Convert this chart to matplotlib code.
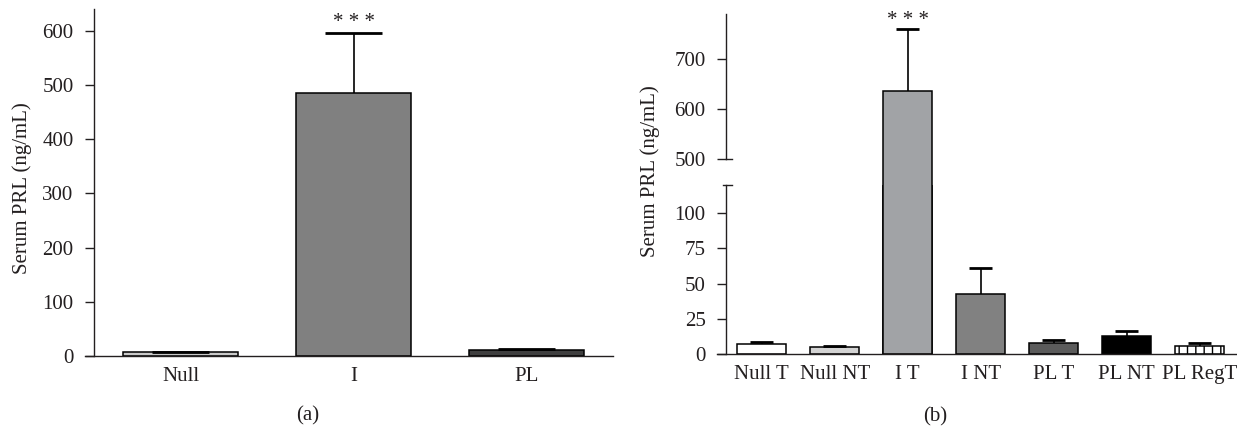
import numpy as np
import matplotlib.pyplot as plt
from matplotlib.transforms import Bbox, blended_transform_factory

plt.rcParams['font.family'] = ['Liberation Serif', 'DejaVu Serif']
plt.rcParams['font.size'] = 15
plt.rcParams['hatch.linewidth'] = 1.0
plt.rcParams['text.color'] = '#231f20'
plt.rcParams['xtick.color'] = '#231f20'
plt.rcParams['ytick.color'] = '#231f20'

# panel (a)
groups_a = ['Null', 'I', 'PL']
means_a = [7, 485, 10.5]
sem_a = [1.3, 110, 1.8]
colors_a = ['#c9c9c9', '#808080', '#3f3f3f']
stars_a = ['', '* * *', '']

# panel (b)
groups_b = ['Null T', 'Null NT', 'I T', 'I NT', 'PL T', 'PL NT', 'PL RegT']
means_b = [7.5, 4.9, 636, 42.6, 8.0, 12.7, 6.1]
sem_b = [1.2, 1.2, 123, 18.5, 2.1, 4.0, 2.1]
colors_b = ['white', '#d3d3d3', '#a1a3a6', '#818181', '#5b5b5b', 'black', 'white']
hatch_b = [None, None, None, None, None, None, '||']
stars_b = ['', '', '* * *', '', '', '', '']

EDGE = 'black'


def style_axis(ax, spine_x):
    for side in ('top', 'right'):
        ax.spines[side].set_visible(False)
    ax.spines['left'].set_position(('data', spine_x))
    for side in ('left', 'bottom'):
        ax.spines[side].set_linewidth(1.0)
        ax.spines[side].set_color('#231f20')
    ax.tick_params(axis='y', direction='out', length=6.7, width=1.0, pad=8)
    ax.tick_params(axis='x', length=0, pad=8)


def add_errors(ax, x, means, errs, cap_half):
    tops = np.add(means, errs)
    ax.vlines(x, means, tops, color='black', linewidth=1.2, zorder=3)
    ax.hlines(tops, x - cap_half, x + cap_half, color='black', linewidth=2.0, zorder=3)
    return tops


def add_stars(ax, x, tops, stars, offset):
    for xi, t, s in zip(x, tops, stars):
        if s:
            ax.annotate(s, (xi, t), xytext=(0, offset), textcoords='offset points',
                        ha='center', va='bottom', fontsize=15, annotation_clip=False)


fig = plt.figure(figsize=(12.37, 4.28), dpi=100)

# ---- (a)
ax_a = fig.add_axes([0.0687, 0.1682, 0.4266, 0.8107])
xa = np.arange(len(groups_a))
ax_a.bar(xa, means_a, width=0.664, color=colors_a, edgecolor=EDGE, linewidth=1.1, zorder=2)
tops_a = add_errors(ax_a, xa, means_a, sem_a, 0.165)
add_stars(ax_a, xa, tops_a, stars_a, 1)
ax_a.set_xlim(-0.552, 2.497)
ax_a.set_ylim(0, 640)
ax_a.set_yticks(np.arange(0, 601, 100))
ax_a.set_xticks(xa, groups_a)
style_axis(ax_a, -0.5)

# ---- (b) broken axis
pos_x, pos_w = 0.5794, 0.4206
ax_hi = fig.add_axes([pos_x, 0.6292, pos_w, 0.3381])
ax_lo = fig.add_axes([pos_x, 0.1722, pos_w, 0.3963], facecolor='none')
xb = np.arange(len(groups_b))
spine_b = -0.489
for ax in (ax_hi, ax_lo):
    bars = ax.bar(xb, means_b, width=0.667, color=colors_b, edgecolor=EDGE,
                  linewidth=1.1, zorder=2)
    for b, h in zip(bars, hatch_b):
        if h:
            b.set_hatch(h)
    ax.set_xlim(-0.616, 6.51)
    style_axis(ax, spine_b)
    tops_b = add_errors(ax, xb, means_b, sem_b, 0.155)

ax_lo.set_ylim(0, 120)
ax_lo.set_yticks([0, 25, 50, 75, 100])
ax_lo.set_xticks(xb, groups_b)

ax_hi.set_ylim(500, 789)
ax_hi.set_yticks([500, 600, 700])
ax_hi.spines['bottom'].set_visible(False)
ax_hi.tick_params(axis='x', bottom=False, labelbottom=False)
add_stars(ax_hi, xb, tops_b, stars_b, -1)

# let the tall bar run continuously through the axis break
clip = Bbox.union([ax_lo.bbox, ax_hi.bbox])
for b in ax_hi.patches:
    b.set_clip_box(clip)
    if b.get_height() < 500:
        b.set_visible(False)

# break marks on the y axis
tr_hi = blended_transform_factory(ax_hi.transData, ax_hi.transAxes)
tr_lo = blended_transform_factory(ax_lo.transData, ax_lo.transAxes)
ax_hi.plot([spine_b, spine_b + 0.078], [0, 0], transform=tr_hi, color='#231f20',
           linewidth=1.0, clip_on=False)
ax_lo.plot([spine_b - 0.045, spine_b + 0.078], [1, 1], transform=tr_lo, color='#231f20',
           linewidth=1.0, clip_on=False)

# labels
fig.text(0.0175, 0.5607, 'Serum PRL (ng/mL)', rotation=90, ha='center', va='center', fontsize=15)
fig.text(0.5255, 0.6005, 'Serum PRL (ng/mL)', rotation=90, ha='center', va='center', fontsize=15)
fig.text(308 / 1237, 1 - 416 / 428, '(a)', ha='center', va='center', fontsize=15)
fig.text(935 / 1237, 1 - 417 / 428, '(b)', ha='center', va='center', fontsize=15)

fig.savefig('out.png', dpi=100)
